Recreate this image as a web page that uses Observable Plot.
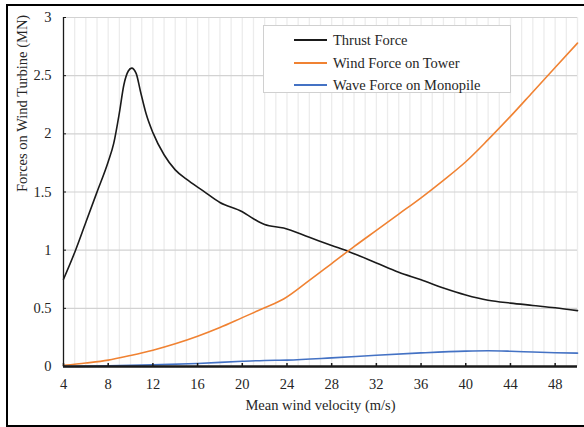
<!DOCTYPE html>
<html>
<head>
<meta charset="utf-8">
<script src="https://cdn.jsdelivr.net/npm/d3@7"></script>
<script src="https://cdn.jsdelivr.net/npm/@observablehq/plot@0.6"></script>
<style>
  body { margin: 0; background: #fff; }
  #wrap { position: relative; width: 584px; height: 427px; overflow: hidden; font-family: "Liberation Serif", "Times New Roman", Times, "DejaVu Serif", serif; }
  #border { position: absolute; left: 6px; top: 4px; width: 600px; height: 419px; border: 2px solid #000; pointer-events: none; }
  #legend { position: absolute; left: 263px; top: 25px; width: 246px; height: 66px; border: 1px solid #d0d0d0; background: #fff; }
  .item { position: absolute; left: 0; height: 20px; width: 246px; }
  .sw { position: absolute; left: 30px; top: 9px; width: 33px; height: 2px; }
  .lb { position: absolute; left: 69px; top: 0; font-family: "Liberation Serif", "Times New Roman", Times, "DejaVu Serif", serif; font-size: 14.5px; line-height: 20px; color: #262626; white-space: nowrap; }
  svg text { font-family: "Liberation Serif", "Times New Roman", Times, "DejaVu Serif", serif; }
</style>
</head>
<body>
<div id="wrap">
  <div id="chart"></div>
  <div id="legend"></div>
  <div id="border"></div>
</div>
<script>
// Thrust force (MN) vs mean wind velocity (m/s)
const thrustX = [4, 5, 6, 7, 8, 8.5, 9, 9.4, 9.8, 10.1, 10.5, 10.9, 11.4, 12, 13, 14, 15, 16.5, 18, 20, 21, 22, 23.7, 26, 28, 29.6, 32, 34, 36, 38, 40, 42, 44, 46, 48, 50];
const thrustY = [0.75, 0.98, 1.24, 1.5, 1.76, 1.92, 2.18, 2.42, 2.54, 2.565, 2.52, 2.36, 2.17, 2.01, 1.82, 1.69, 1.61, 1.51, 1.41, 1.33, 1.27, 1.22, 1.19, 1.11, 1.04, 0.985, 0.89, 0.81, 0.745, 0.675, 0.615, 0.57, 0.545, 0.525, 0.505, 0.48];
// Wind force on tower (MN)
const towerX = [4, 6, 8, 10, 12, 14, 16, 18, 20, 22, 23.7, 26, 28, 30, 32, 34, 36, 38, 40, 42, 44, 46, 48, 50];
const towerY = [0.01, 0.03, 0.055, 0.095, 0.14, 0.195, 0.26, 0.335, 0.42, 0.505, 0.58, 0.74, 0.885, 1.03, 1.17, 1.31, 1.45, 1.6, 1.76, 1.95, 2.15, 2.36, 2.57, 2.78];
// Wave force on monopile (MN)
const waveX = [4, 8, 12, 16, 20, 22, 24, 28, 32, 36, 40, 42, 44, 46, 48, 50];
const waveY = [0.0, 0.005, 0.014, 0.026, 0.045, 0.052, 0.055, 0.074, 0.097, 0.117, 0.132, 0.135, 0.131, 0.124, 0.118, 0.115];

const seriesNames = ["Thrust Force", "Wind Force on Tower", "Wave Force on Monopile"];
const seriesColors = ["#1a1a1a", "#f08232", "#4472c4"];

const xTicks = [4, 8, 12, 16, 20, 24, 28, 32, 36, 40, 44, 48];
const xMinor = d3.range(5, 51, 1);
const yTicks = [0, 0.5, 1, 1.5, 2, 2.5, 3];

const rows = [];
thrustX.forEach((x, i) => rows.push({series: seriesNames[0], x, y: thrustY[i]}));
towerX.forEach((x, i) => rows.push({series: seriesNames[1], x, y: towerY[i]}));
waveX.forEach((x, i) => rows.push({series: seriesNames[2], x, y: waveY[i]}));

const serif = '"Liberation Serif", "Times New Roman", Times, "DejaVu Serif", serif';

const plot = Plot.plot({
  width: 584,
  height: 427,
  marginLeft: 63,
  marginRight: 7,
  marginTop: 17,
  marginBottom: 61,
  style: { fontFamily: serif, fontSize: "14.5px", color: "#262626", background: "#fff" },
  x: { domain: [4, 50] },
  y: { domain: [0, 3] },
  color: { domain: seriesNames, range: seriesColors },
  marks: [
    Plot.ruleX(xMinor, { stroke: "#ececec", strokeWidth: 1.3 }),
    Plot.ruleY(yTicks, { stroke: "#d2d2d2", strokeWidth: 1.2 }),
    Plot.line(rows, { x: "x", y: "y", z: "series", stroke: "series", strokeWidth: 1.6, curve: "monotone-x" }),
    Plot.ruleX([4], { stroke: "#1a1a1a", strokeWidth: 1.3 }),
    Plot.ruleY([0], { stroke: "#1a1a1a", strokeWidth: 2.5 }),
    Plot.axisX({ ticks: xTicks, tickSize: -3, fill: "none", stroke: "#1a1a1a", strokeWidth: 1.5, label: null }),
    Plot.axisX({ ticks: xTicks, tickSize: 0, tickPadding: 12, tickFormat: d => String(d), label: null }),
    Plot.axisY({ ticks: yTicks, tickSize: -3, fill: "none", stroke: "#1a1a1a", label: null }),
    Plot.axisY({ ticks: yTicks, tickSize: 0, tickPadding: 12, tickFormat: d3.format("~g"), label: null }),
    Plot.text(["Mean wind velocity (m/s)"], { frameAnchor: "bottom", dy: 43, fill: "#262626" }),
    Plot.text(["Forces on Wind Turbine (MN)"], { frameAnchor: "left", dx: -41, rotate: -90, fill: "#262626" })
  ]
});
document.getElementById("chart").appendChild(plot);

const legend = document.getElementById("legend");
seriesNames.forEach((name, i) => {
  const item = document.createElement("div");
  item.className = "item";
  item.style.top = (4 + i * 22.5) + "px";
  const sw = document.createElement("div");
  sw.className = "sw";
  sw.style.background = seriesColors[i];
  const lb = document.createElement("div");
  lb.className = "lb";
  lb.textContent = name;
  item.appendChild(sw);
  item.appendChild(lb);
  legend.appendChild(item);
});
</script>
</body>
</html>
